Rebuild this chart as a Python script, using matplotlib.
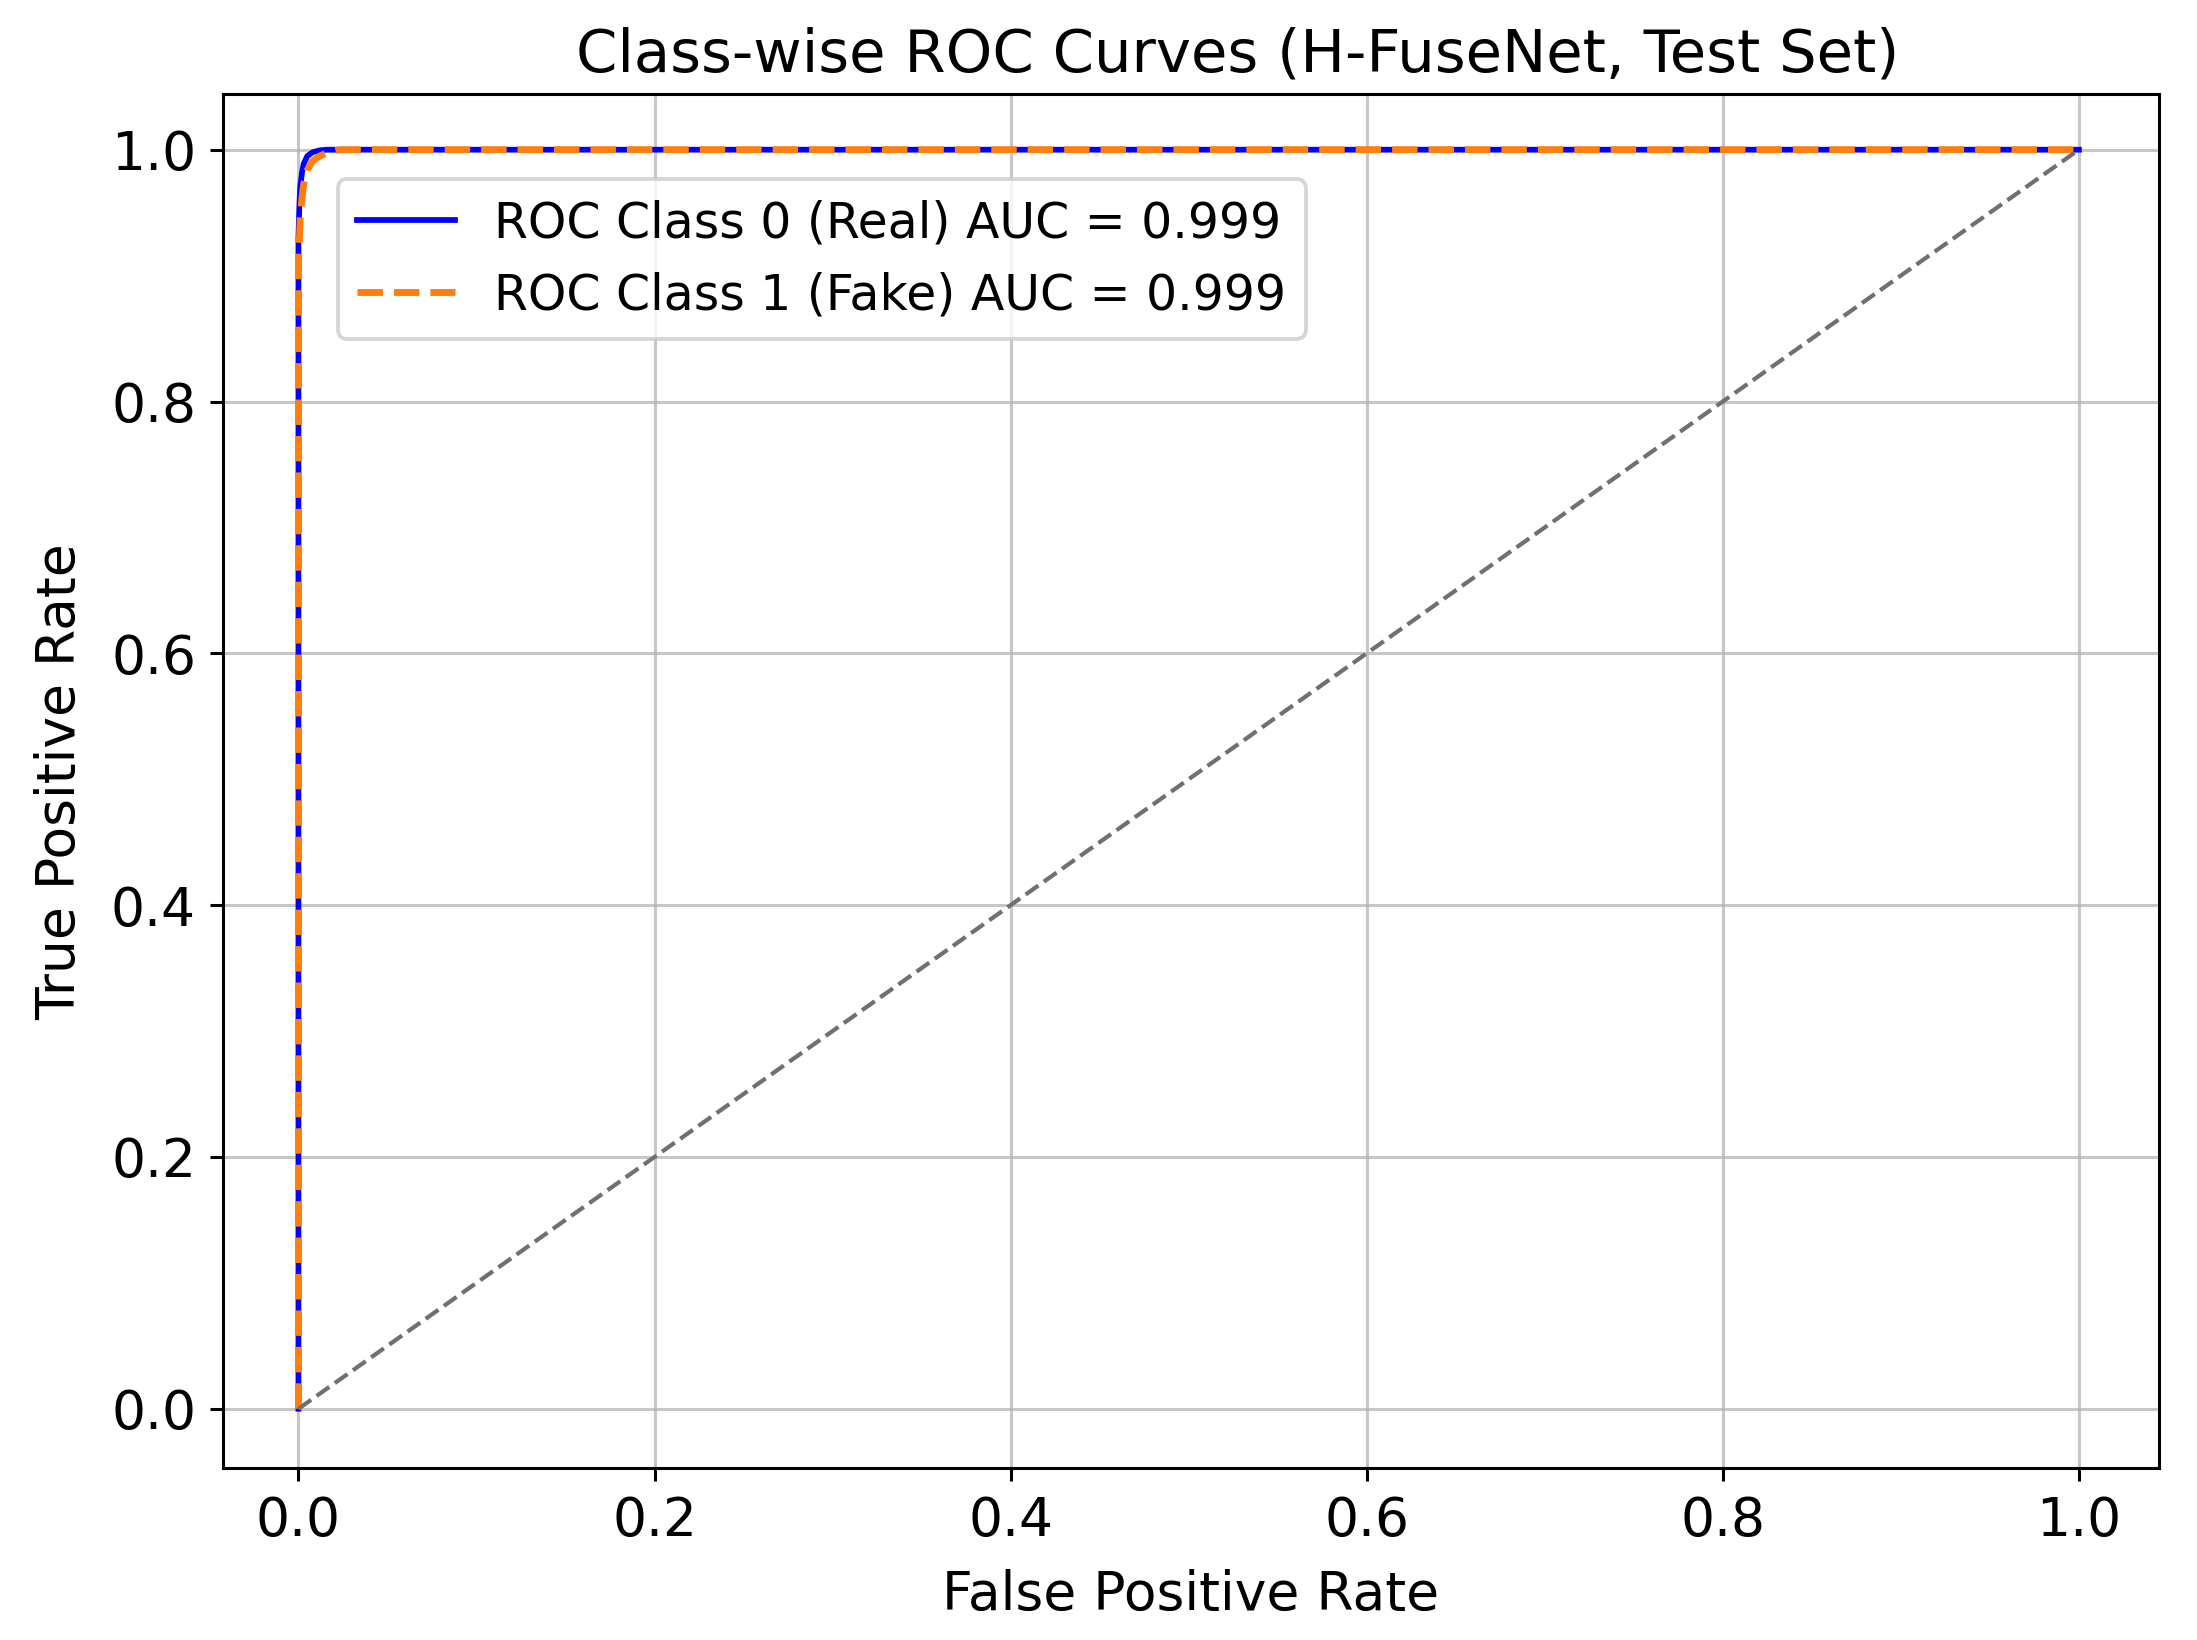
import matplotlib
matplotlib.use("Agg")
import matplotlib.pyplot as plt

# ROC data
fpr_class0 = [0.0, 0.0, 0.0005, 0.001, 0.002, 0.003, 0.005, 0.008, 0.012, 0.016, 1.0]
tpr_class0 = [0.0, 0.93, 0.955, 0.970, 0.982, 0.989, 0.995, 0.998, 0.9995, 1.0, 1.0]
fpr_class1 = [0.0, 0.0, 0.001, 0.002, 0.003, 0.005, 0.008, 0.012, 0.017, 0.023, 1.0]
tpr_class1 = [0.0, 0.91, 0.945, 0.962, 0.973, 0.984, 0.991, 0.995, 0.998, 1.0, 1.0]
auc_values = [0.999, 0.999]
class_names = ["Real", "Fake"]
diag = [0.0, 1.0]

DPI = 275
fig = plt.figure(figsize=(2197 / DPI, 1640 / DPI), dpi=DPI)
ax = fig.add_axes([0.1014, 0.1049, 0.8813, 0.8376])

ax.plot(fpr_class0, tpr_class0, color="blue", lw=1.5,
        label=f"ROC Class 0 ({class_names[0]}) AUC = {auc_values[0]:.3f}")
ax.plot(fpr_class1, tpr_class1, color="#ff7f0e", lw=1.8, linestyle="--",
        label=f"ROC Class 1 ({class_names[1]}) AUC = {auc_values[1]:.3f}")
ax.plot(diag, diag, color="#707070", lw=1.1, linestyle="--")

ax.set_xlim(-0.0425, 1.045)
ax.set_ylim(-0.047, 1.044)
ax.set_title("Class-wise ROC Curves (H-FuseNet, Test Set)", fontsize=15.5, x=0.524)
ax.set_xlabel("False Positive Rate", fontsize=14, labelpad=5.8)
ax.set_ylabel("True Positive Rate", fontsize=14, labelpad=6.6)
ax.tick_params(labelsize=14)
ax.grid(True, color="#b0b0b0", alpha=0.7, lw=0.8)
ax.legend(loc="upper left", bbox_to_anchor=(0.0593, 0.938), borderaxespad=0, fontsize=12.8)

fig.savefig("out.png", dpi=DPI)
